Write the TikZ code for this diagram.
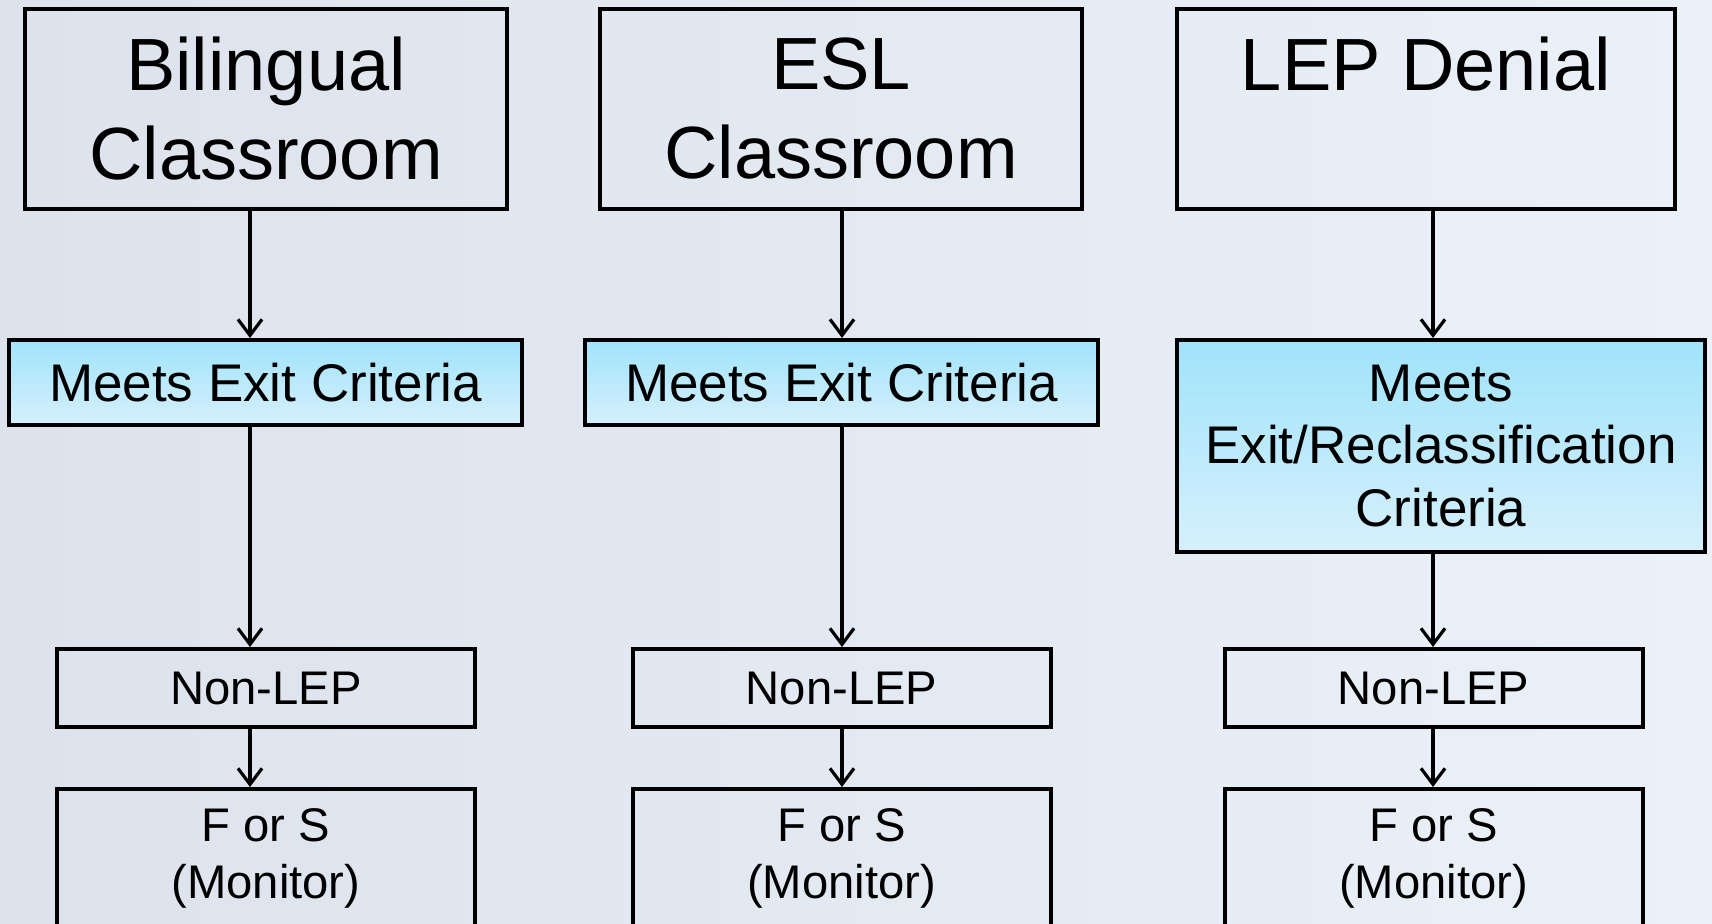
\documentclass[tikz,border=0pt]{standalone}
\usepackage{fontspec}
\setmainfont{Liberation Sans}
\usetikzlibrary{arrows.meta}
\definecolor{bgleft}{RGB}{221,226,236}
\definecolor{bgright}{RGB}{234,241,248}
\definecolor{exittop}{RGB}{160,227,251}
\definecolor{exitbot}{RGB}{214,240,252}
\newcommand{\bigtext}{\fontsize{37}{44.5}\selectfont}
\newcommand{\midtext}{\fontsize{26.5}{31.4}\selectfont}
\newcommand{\smalltext}{\fontsize{23.6}{28.5}\selectfont}
\tikzset{
  box/.style={draw=black, line width=2pt, inner sep=0pt, align=center},
  topbox/.style={box, minimum width=#1, minimum height=100pt, font=\bigtext},
  exitbox/.style={box, top color=exittop, bottom color=exitbot, font=\midtext},
  lepbox/.style={box, minimum width=209pt, minimum height=39pt, font=\smalltext},
  fsbox/.style={box, minimum width=209pt, inner ysep=10pt, text depth=35pt, anchor=north, font=\smalltext},
  flow/.style={line width=1.6pt, -{Straight Barb[length=8pt,width=12pt]}}
}

\begin{document}
\begin{tikzpicture}[x=0.5pt,y=-0.5pt]
\shade[left color=bgleft, right color=bgright] (0,0) rectangle (1712,923);
\useasboundingbox (0,0) rectangle (1712,923);
% classrooms
\node[topbox=241pt] (bil-top) at (266,109) {Bilingual\\Classroom};
\node[topbox=241pt] (esl-top) at (841,109) {ESL\\Classroom};
\node[topbox=249pt] (den-top) at (1426,109) {LEP Denial\\\phantom{Classroom}};
% exit criteria
\node[exitbox, minimum width=256.5pt, minimum height=42.5pt] (bil-exit) at (265.5,382.5) {Meets Exit Criteria};
\node[exitbox, minimum width=256.5pt, minimum height=42.5pt] (esl-exit) at (841.5,382.5) {Meets Exit Criteria};
\node[exitbox, minimum width=264pt, minimum height=106pt] (den-exit) at (1441,446) {Meets\\Exit/Reclassification\\Criteria};
% status
\node[lepbox] (bil-non) at (266,688) {Non-LEP};
\node[lepbox] (esl-non) at (841.5,688) {Non-LEP};
\node[lepbox] (den-non) at (1433.5,688) {Non-LEP};
\node[fsbox] (bil-fs) at (266,787) {F or S\\(Monitor)};
\node[fsbox] (esl-fs) at (841.5,787) {F or S\\(Monitor)};
\node[fsbox] (den-fs) at (1433.5,787) {F or S\\(Monitor)};
% arrows
\coordinate (bil-col) at (250,0);
\coordinate (esl-col) at (842,0);
\coordinate (den-col) at (1433,0);
\foreach \c in {bil,esl,den} {
  \draw[flow] (\c-top.south -| \c-col) -- (\c-exit.north -| \c-col);
  \draw[flow] (\c-exit.south -| \c-col) -- (\c-non.north -| \c-col);
  \draw[flow] (\c-non.south -| \c-col) -- (\c-fs.north -| \c-col);
}
\end{tikzpicture}
\end{document}
